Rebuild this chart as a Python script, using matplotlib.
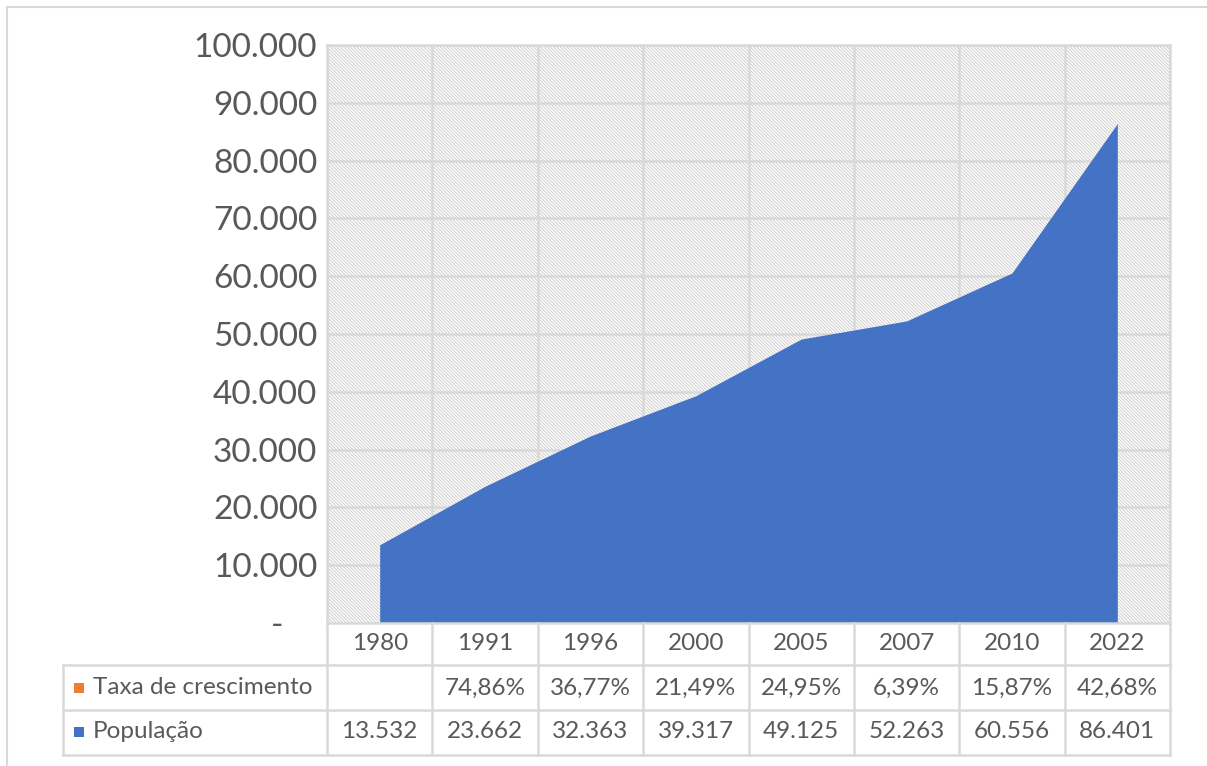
import numpy as np
import matplotlib
matplotlib.use("Agg")
import matplotlib.pyplot as plt
from matplotlib import patches
from matplotlib.lines import Line2D
import matplotlib.ticker as ticker

# dados
anos = ["1980", "1991", "1996", "2000", "2005", "2007", "2010", "2022"]
populacao = [13532, 23662, 32363, 39317, 49125, 52263, 60556, 86401]
taxa = [None, 74.86, 36.77, 21.49, 24.95, 6.39, 15.87, 42.68]
rotulos = ["Taxa de crescimento", "População"]

AZUL = "#4472C4"
LARANJA = "#ED7D31"
CINZA = "#D9D9D9"
TEXTO = "#595959"

W, H = 1207, 766
plt.rcParams["font.family"] = ["Lato", "DejaVu Sans"]
plt.rcParams["hatch.linewidth"] = 0.7


def rect(x0, y0, x1, y1):
    return [x0 / W, 1 - y1 / H, (x1 - x0) / W, (y1 - y0) / H]


def milhar(v):
    return f"{v:,}".replace(",", ".")


fig = plt.figure(figsize=(W / 100, H / 100), dpi=100)

# moldura externa
fig.add_artist(Line2D([7 / W, 7 / W], [0, 1 - 7 / H], color=CINZA, lw=1.5))
fig.add_artist(Line2D([7 / W, 1], [1 - 7 / H, 1 - 7 / H], color=CINZA, lw=1.5))

# area do grafico
ax = fig.add_axes(rect(327, 45, 1170, 623))
x = np.arange(len(anos))
ax.set_xlim(-0.5, len(anos) - 0.5)
ax.set_ylim(0, 100000)

ax.add_patch(patches.Rectangle((0, 0), 1, 1, transform=ax.transAxes,
                               facecolor="white", edgecolor="#CFCFCF",
                               hatch="\\" * 10, lw=0, zorder=0))
for yv in range(10000, 100001, 10000):
    ax.axhline(yv, color=CINZA, lw=1.8, zorder=1)
for i in range(len(anos) + 1):
    ax.axvline(i - 0.5, color=CINZA, lw=1.8, zorder=1)

ax.fill_between(x, populacao, color=AZUL, lw=0, zorder=2)

for s in ax.spines.values():
    s.set_color(CINZA)
    s.set_linewidth(1.8)

ax.set_xticks([])
ax.set_yticks(range(0, 100001, 10000))
ax.yaxis.set_major_formatter(ticker.FuncFormatter(
    lambda v, p: "-    " if v == 0 else milhar(int(v))))
ax.tick_params(axis="y", length=0, pad=7, labelsize=24, labelcolor=TEXTO)

# tabela de dados
colw = (1170 - 327) / len(anos)
xmin = -0.5 - (327 - 63) / colw
tax = fig.add_axes(rect(63, 623, 1170, 755))
tax.set_xlim(xmin, len(anos) - 0.5)
tax.set_ylim(755, 623)
tax.axis("off")


def px(v):
    return xmin + (v - 63) / colw


for i in range(len(anos) + 1):
    tax.plot([i - 0.5, i - 0.5], [623, 755], color=CINZA, lw=1.8, clip_on=False)
for yl in [665, 710, 755]:
    tax.plot([xmin, len(anos) - 0.5], [yl, yl], color=CINZA, lw=1.8, clip_on=False)
tax.plot([xmin, xmin], [665, 755], color=CINZA, lw=1.8, clip_on=False)

fs = 17.5
for i, a in enumerate(anos):
    tax.text(i, 644, a, ha="center", va="center", fontsize=fs, color=TEXTO)
    if taxa[i] is not None:
        tax.text(i, 688, f"{taxa[i]:.2f}%".replace(".", ","), ha="center",
                 va="center", fontsize=fs, color=TEXTO)
    tax.text(i, 732, milhar(populacao[i]), ha="center", va="center",
             fontsize=fs, color=TEXTO)

for (rot, cor, yc) in zip(rotulos, [LARANJA, AZUL], [688, 732]):
    tax.add_patch(patches.Rectangle((px(74), yc - 5), 10 / colw, 10,
                                    facecolor=cor, lw=0, clip_on=False))
    tax.text(px(93), yc, rot, ha="left", va="center", fontsize=fs, color=TEXTO)

fig.savefig("out.png", dpi=100)
